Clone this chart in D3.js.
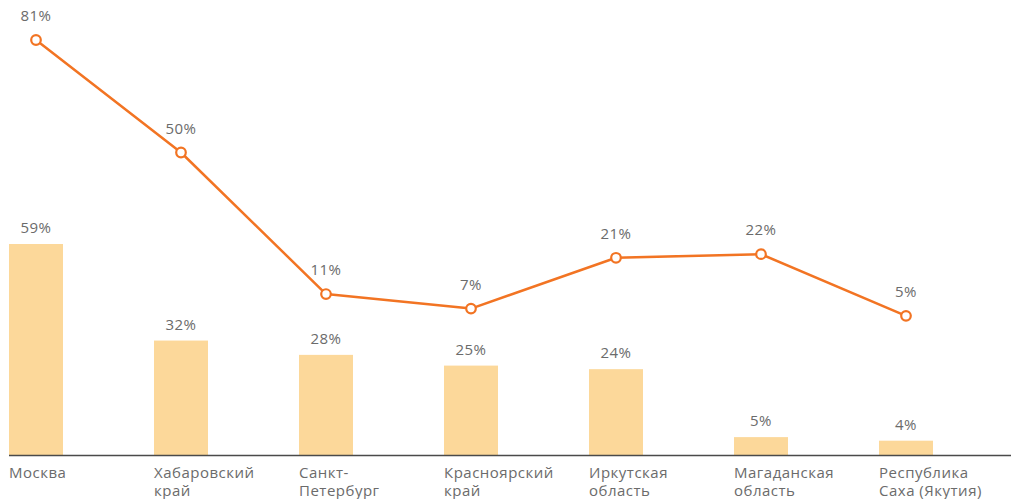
<!DOCTYPE html>
<html>
<head>
<meta charset="utf-8">
<script src="https://cdn.jsdelivr.net/npm/d3@7"></script>
<style>
  html, body { margin: 0; padding: 0; background: #fff; }
  svg { display: block; }
  text { font-family: "Open Sans", "DejaVu Sans", sans-serif; fill: #6b6b6b; letter-spacing: 0.5px; }
</style>
</head>
<body>
<svg id="chart" width="1011" height="499"></svg>
<script>
// Regions (two-line labels)
const categories = [
  ["Москва"],
  ["Хабаровский", "край"],
  ["Санкт-", "Петербург"],
  ["Красноярский", "край"],
  ["Иркутская", "область"],
  ["Магаданская", "область"],
  ["Республика", "Саха (Якутия)"]
];
// Bar series, %
const barValues = [59, 32, 28, 25, 24, 5, 4];
// Line series, %
const lineValues = [81, 50, 11, 7, 21, 22, 5];

const svg = d3.select("#chart");
const W = 1011;

const x = d3.scaleBand()
  .domain(d3.range(categories.length))
  .range([9, 9 + 145 * categories.length])
  .paddingInner(0)
  .paddingOuter(0);
const barW = 54;

// Bars sit on the baseline; the line has its own vertical scale
const yBar = d3.scaleLinear().domain([0, 59]).range([455, 244]);
const yLine = d3.scaleLinear().domain([0, 81]).range([334, 40]);

// Bars
svg.append("g").selectAll("rect")
  .data(barValues)
  .join("rect")
  .attr("x", (d, i) => x(i))
  .attr("y", d => yBar(d))
  .attr("width", barW)
  .attr("height", d => yBar(0) - yBar(d))
  .attr("fill", "#fcd89a");

// Bar value labels
svg.append("g").selectAll("text")
  .data(barValues)
  .join("text")
  .attr("x", (d, i) => x(i) + barW / 2)
  .attr("y", d => yBar(d) - 11)
  .attr("text-anchor", "middle")
  .attr("font-size", 15)
  .text(d => d + "%");

// Baseline
svg.append("line")
  .attr("x1", 9).attr("x2", W)
  .attr("y1", 455.5).attr("y2", 455.5)
  .attr("stroke", "#4a4a4a")
  .attr("stroke-width", 1.3);

// Category labels
const cat = svg.append("g").selectAll("text")
  .data(categories)
  .join("text")
  .attr("x", (d, i) => x(i))
  .attr("y", 478)
  .attr("font-size", 15);
cat.selectAll("tspan")
  .data(d => d)
  .join("tspan")
  .attr("x", function () { return d3.select(this.parentNode).attr("x"); })
  .attr("dy", (d, j) => j === 0 ? 0 : 18)
  .text(d => d);

// Line series
const line = d3.line()
  .x((d, i) => x(i) + barW / 2)
  .y(d => yLine(d));

svg.append("path")
  .datum(lineValues)
  .attr("d", line)
  .attr("fill", "none")
  .attr("stroke", "#f27423")
  .attr("stroke-width", 2.5)
  .attr("stroke-linejoin", "round");

svg.append("g").selectAll("circle")
  .data(lineValues)
  .join("circle")
  .attr("cx", (d, i) => x(i) + barW / 2)
  .attr("cy", d => yLine(d))
  .attr("r", 4.8)
  .attr("fill", "#fff")
  .attr("stroke", "#f27423")
  .attr("stroke-width", 2.2);

svg.append("g").selectAll("text")
  .data(lineValues)
  .join("text")
  .attr("x", (d, i) => x(i) + barW / 2)
  .attr("y", d => yLine(d) - 19)
  .attr("text-anchor", "middle")
  .attr("font-size", 15)
  .text(d => d + "%");
</script>
</body>
</html>
